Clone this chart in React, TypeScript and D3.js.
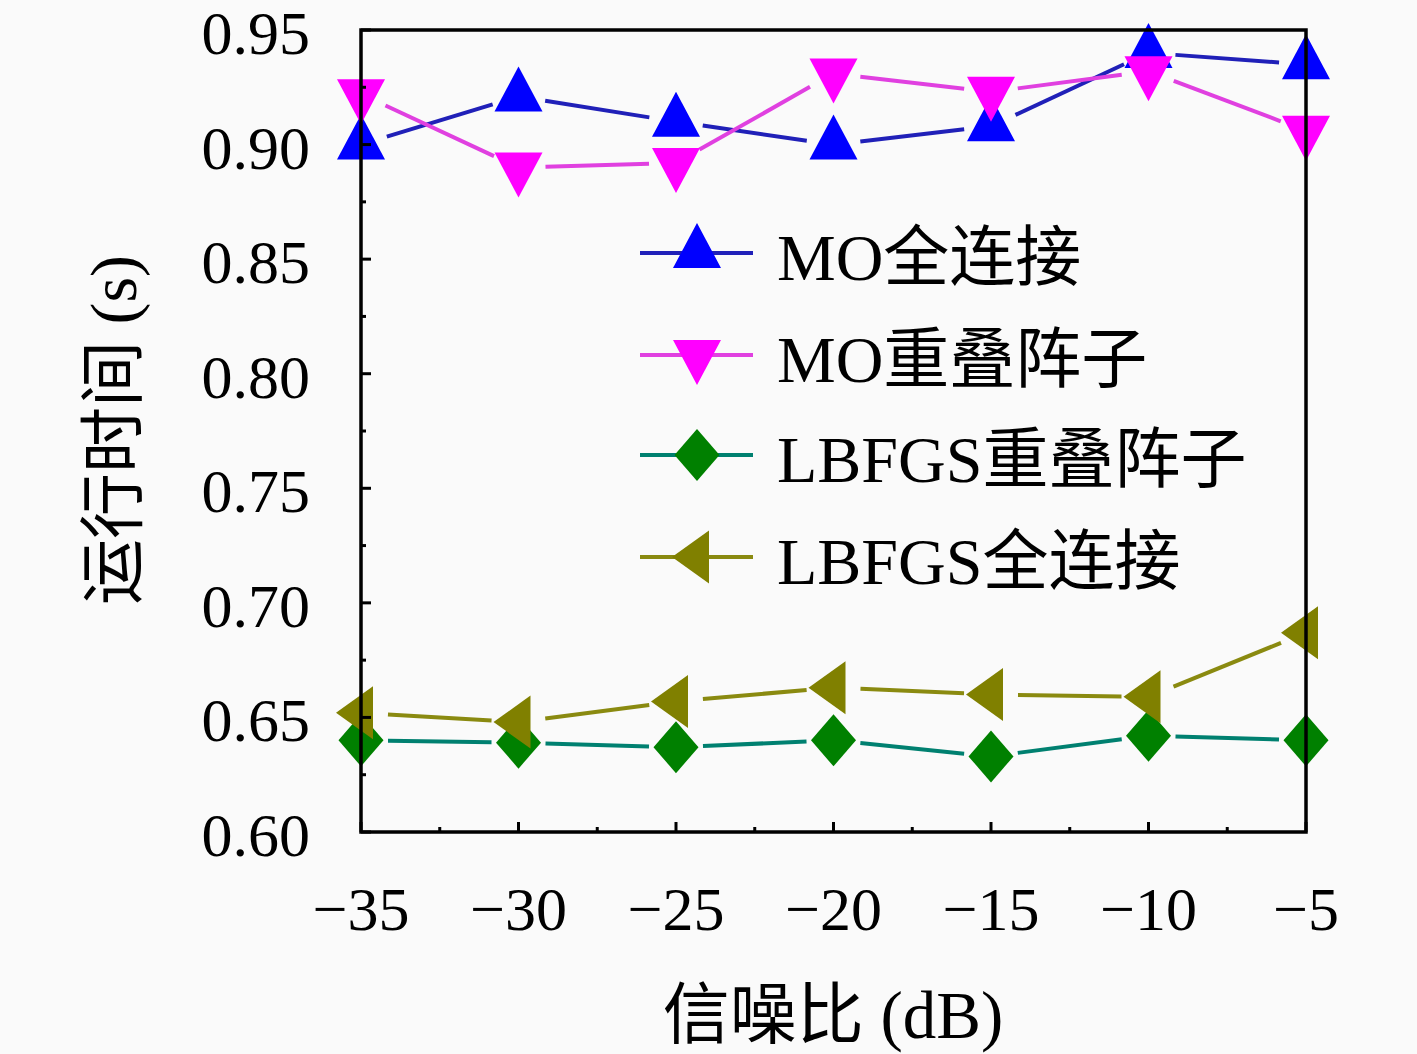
import React from "react";
import * as d3 from "d3";

const snr = [-35, -30, -25, -20, -15, -10, -5];
const moFull = [0.900, 0.921, 0.910, 0.900, 0.908, 0.940, 0.935];
const moOverlap = [0.922, 0.890, 0.892, 0.931, 0.923, 0.932, 0.906];
const lbfgsOverlap = [0.640, 0.639, 0.637, 0.640, 0.633, 0.642, 0.640];
const lbfgsFull = [0.652, 0.648, 0.657, 0.663, 0.660, 0.659, 0.687];
const yTicks = [0.60, 0.65, 0.70, 0.75, 0.80, 0.85, 0.90, 0.95];
const yMinor = [0.625, 0.675, 0.725, 0.775, 0.825, 0.875, 0.925];
const xTicks = [-35, -30, -25, -20, -15, -10, -5];
const xMinor = [-32.5, -27.5, -22.5, -17.5, -12.5, -7.5];
const seriesNames = ["MO全连接", "MO重叠阵子", "LBFGS重叠阵子", "LBFGS全连接"];

const W = 1417, H = 1054;
const L = 361, R = 1306, T = 30, B = 832;
const FONT = "'Liberation Serif', 'Noto Sans CJK SC', serif";

type Shape = "up" | "down" | "diamond" | "left";

function markerPath(shape: Shape, cx: number, cy: number): string {
  if (shape === "up") return `M${cx},${cy - 30}L${cx + 24},${cy + 15}L${cx - 24},${cy + 15}Z`;
  if (shape === "down") return `M${cx - 24},${cy - 15}L${cx + 24},${cy - 15}L${cx},${cy + 30}Z`;
  if (shape === "diamond") return `M${cx},${cy - 26}L${cx + 22.5},${cy}L${cx},${cy + 26}L${cx - 22.5},${cy}Z`;
  return `M${cx - 25},${cy}L${cx + 12},${cy - 26.5}L${cx + 12},${cy + 26.5}Z`;
}

const series: { vals: number[]; line: string; fill: string; shape: Shape }[] = [
  { vals: moFull, line: "#2020b8", fill: "#0000ff", shape: "up" },
  { vals: moOverlap, line: "#e040e0", fill: "#ff00ff", shape: "down" },
  { vals: lbfgsOverlap, line: "#008070", fill: "#008000", shape: "diamond" },
  { vals: lbfgsFull, line: "#8a8a10", fill: "#808000", shape: "left" },
];

export default function App() {
  const x = d3.scaleLinear().domain([-35, -5]).range([L, R]);
  const y = d3.scaleLinear().domain([0.6, 0.95]).range([B, T]);
  const trim = 27;

  const segs = (vals: number[]) => {
    const out: string[] = [];
    for (let i = 0; i < vals.length - 1; i++) {
      const x0 = x(snr[i]), y0 = y(vals[i]), x1 = x(snr[i + 1]), y1 = y(vals[i + 1]);
      const len = Math.hypot(x1 - x0, y1 - y0);
      const ux = (x1 - x0) / len, uy = (y1 - y0) / len;
      out.push(
        d3.line()([
          [x0 + ux * trim, y0 + uy * trim],
          [x1 - ux * trim, y1 - uy * trim],
        ]) as string
      );
    }
    return out;
  };

  const legendRows = [253, 355, 455, 557];

  return (
    <svg width={W} height={H} style={{ position: "absolute", left: 0, top: 0 }} fontFamily={FONT}>
      <rect x={0} y={0} width={W} height={H} fill="#fafafa" />
      {series.map((s, si) =>
        segs(s.vals).map((d, i) => (
          <path key={`l${si}-${i}`} d={d} stroke={s.line} strokeWidth={4} fill="none" />
        ))
      )}
      {series.map((s, si) =>
        s.vals.map((v, i) => (
          <path key={`m${si}-${i}`} d={markerPath(s.shape, x(snr[i]), y(v))} fill={s.fill} />
        ))
      )}
      <rect x={L} y={T} width={R - L} height={B - T} fill="none" stroke="#000" strokeWidth={3.5} />
      {yTicks.map((t) => (
        <g key={`yt${t}`}>
          <line x1={L} x2={L + 10} y1={y(t)} y2={y(t)} stroke="#000" strokeWidth={3} />
          <text x={310} y={y(t) + 24} textAnchor="end" fontSize={62} fill="#000">
            {t.toFixed(2)}
          </text>
        </g>
      ))}
      {yMinor.map((t) => (
        <line key={`ym${t}`} x1={L} x2={L + 5} y1={y(t)} y2={y(t)} stroke="#000" strokeWidth={3} />
      ))}
      {xTicks.map((t) => (
        <g key={`xt${t}`}>
          <line x1={x(t)} x2={x(t)} y1={B} y2={B - 10} stroke="#000" strokeWidth={3} />
          <text x={x(t)} y={930} textAnchor="middle" fontSize={62} fill="#000">
            {"\u2212" + Math.abs(t)}
          </text>
        </g>
      ))}
      {xMinor.map((t) => (
        <line key={`xm${t}`} x1={x(t)} x2={x(t)} y1={B} y2={B - 5} stroke="#000" strokeWidth={3} />
      ))}
      <text x={833} y={1038} textAnchor="middle" fontSize={67} fill="#000">
        信噪比 (dB)
      </text>
      <text transform={`translate(136,430) rotate(-90)`} textAnchor="middle" fontSize={66} fill="#000">
        运行时间 (s)
      </text>
      {series.map((s, i) => (
        <g key={`lg${i}`}>
          <line x1={640} x2={753} y1={legendRows[i]} y2={legendRows[i]} stroke={s.line} strokeWidth={4} />
          <path d={markerPath(s.shape, 697, legendRows[i])} fill={s.fill} />
          <text x={777} y={legendRows[i] + 27} fontSize={66} fill="#000">
            {seriesNames[i]}
          </text>
        </g>
      ))}
    </svg>
  );
}
